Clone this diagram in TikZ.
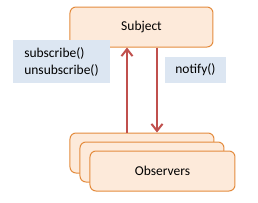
\documentclass[tikz,border=0pt]{standalone}
\usepackage{fontspec}
\setmainfont{Carlito}
\usetikzlibrary{arrows.meta}
\definecolor{peach}{RGB}{253,234,218}
\definecolor{rust}{RGB}{228,140,62}
\definecolor{brick}{RGB}{192,80,77}
\definecolor{mist}{RGB}{220,230,242}
\tikzset{
  >={Straight Barb[length=7pt,width=11pt,line width=2pt]},
  card/.style={draw=rust,fill=peach,rounded corners=6pt,line width=1pt,
    minimum width=144pt,minimum height=40pt,align=center},
  note/.style={fill=mist,align=left,inner xsep=9pt},
  flow/.style={->,line width=2pt,draw=brick},
}
\begin{document}
\begin{tikzpicture}[x=1pt,y=-1pt,font=\fontsize{13.5}{17}\selectfont]
  \useasboundingbox (0,0) rectangle (258,202);
  \node[card,minimum width=143pt] (subject) at (141.5,27) {Subject};
  % stacked observers
  \node[card] (o1) at (142,153) {};
  \node[card] (o2) at (152,162) {};
  \node[card,minimum width=145pt] (o3) at (162.5,171) {Observers};
  \node[note,minimum width=97pt,minimum height=43pt] (ops) at (61.5,61.5) {subscribe()\\unsubscribe()};
  \node[note,minimum width=61pt,minimum height=26pt] (ntf) at (195.5,70) {notify()};
  \draw[flow] ([xshift=-15pt]o1.north) -- ([xshift=-14.5pt]subject.south);
  \draw[flow] ([xshift=15.5pt]subject.south) -- ([xshift=15pt]o1.north);
\end{tikzpicture}
\end{document}
